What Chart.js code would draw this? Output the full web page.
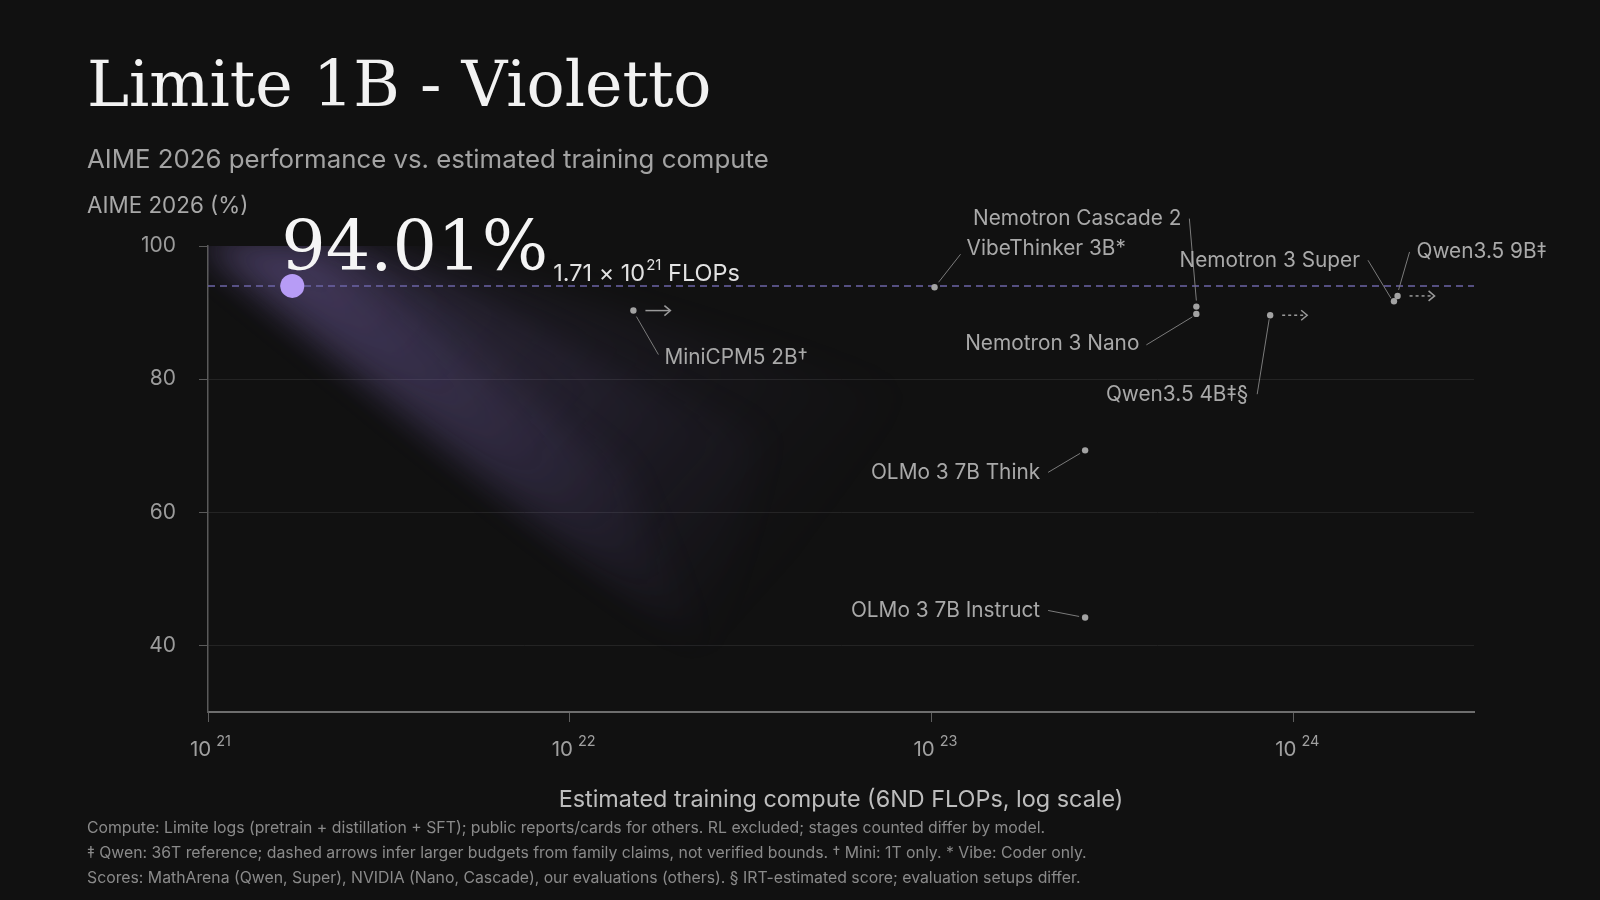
<!DOCTYPE html>
<html lang="en">
<head>
    <meta charset="UTF-8">
    <title>Limite 1B - Violetto</title>
    <style>
        html, body { margin: 0; padding: 0; background: #111111; }
        body { width: 1600px; height: 900px; position: relative; overflow: hidden; font-family: Inter, sans-serif; }
        canvas { position: absolute; left: 0; top: 0; }
        .txt { position: absolute; left: 87px; white-space: nowrap; z-index: 2; }
        .title { top: 53px; margin: 0; font-family: 'DejaVu Serif', serif; font-weight: normal; font-size: 63.4px; line-height: 63px; color: #f2f2f2; }
        .subtitle { top: 146px; font-size: 25.8px; line-height: 25px; color: #a3a3a3; }
        .ylabel { top: 194px; font-size: 22.4px; line-height: 21px; color: #a8a8a8; }
        .notes { top: 815px; font-size: 15.8px; line-height: 25px; color: #8a8a8a; }
    </style>
    <script src="https://cdn.jsdelivr.net/npm/chart.js"></script>
</head>
<body>
    <h1 class="txt title">Limite 1B - Violetto</h1>
    <div class="txt subtitle">AIME 2026 performance vs. estimated training compute</div>
    <div class="txt ylabel">AIME 2026 (%)</div>
    <div class="txt notes">
        Compute: Limite logs (pretrain + distillation + SFT); public reports/cards for others. RL excluded; stages counted differ by model.<br>
        ‡ Qwen: 36T reference; dashed arrows infer larger budgets from family claims, not verified bounds. † Mini: 1T only. * Vibe: Coder only.<br>
        Scores: MathArena (Qwen, Super), NVIDIA (Nano, Cascade), our evaluations (others). § IRT-estimated score; evaluation setups differ.
    </div>
    <canvas id="chart" width="1600" height="900"></canvas>

    <script>
        // data
        const modelNames = ['MiniCPM5 2B†', 'VibeThinker 3B*', 'OLMo 3 7B Think', 'OLMo 3 7B Instruct',
            'Nemotron Cascade 2', 'Nemotron 3 Nano', 'Qwen3.5 4B‡§', 'Nemotron 3 Super', 'Qwen3.5 9B‡'];
        const computeFlops = [1.5e22, 1.02e23, 2.66e23, 2.66e23, 5.4e23, 5.4e23, 8.64e23, 1.9e24, 1.944e24];
        const aimeScores = [90.3, 93.8, 69.3, 44.2, 90.9, 89.8, 89.6, 91.7, 92.5];

        const limiteFlops = 1.71e21;
        const limiteScore = 94.01;

        const yTicks = [40, 60, 80, 100];
        const xTickExps = [21, 22, 23, 24];

        // label placement (pixel offsets from each point)
        const labelLayout = [
            { align: 'left',  dx: 31,  dy: 47,  line: [3, 6, 25, 44], arrow: 'solid' },
            { align: 'left',  dx: 32,  dy: -39, line: [4, -5, 26, -33] },
            { align: 'right', dx: -45, dy: 22,  line: [-5, 3, -37, 22] },
            { align: 'right', dx: -45, dy: -7,  line: [-6, -1, -37, -7] },
            { align: 'right', dx: -15, dy: -88, line: [0, -6, -7, -88] },
            { align: 'right', dx: -57, dy: 30,  line: [-4, 3, -50, 31] },
            { align: 'right', dx: -22, dy: 80,  line: [-1, 4, -13, 79], arrow: 'dashed' },
            { align: 'right', dx: -34, dy: -41, line: [-3, -3, -26, -41] },
            { align: 'left',  dx: 19,  dy: -44, line: [1, -6, 12, -44], arrow: 'dashed' }
        ];
        // glow fan: layered wedges sharing the lower-left edge (offsets from the Limite point)
        const glowLayers = [
            { alpha: 0.10, pts: [[-95, -46], [70, -46], [610, 105], [440, 372], [405, 372]] },
            { alpha: 0.13, pts: [[-95, -46], [40, -46], [470, 150], [425, 370], [405, 370]] },
            { alpha: 0.15, pts: [[-95, -46], [15, -46], [330, 185], [414, 368], [405, 368]] }
        ];

        Chart.defaults.font.family = 'Inter, sans-serif';

        function drawArrow(ctx, x0, x1, y, dashed) {
            ctx.save();
            ctx.strokeStyle = '#9a9a9a';
            ctx.lineWidth = 1.5;
            ctx.setLineDash(dashed ? [3, 3] : []);
            ctx.beginPath();
            ctx.moveTo(x0, y);
            ctx.lineTo(x1 - 1, y);
            ctx.stroke();
            ctx.setLineDash([]);
            ctx.beginPath();
            ctx.moveTo(x1 - 6, y - 5);
            ctx.lineTo(x1, y);
            ctx.lineTo(x1 - 6, y + 5);
            ctx.stroke();
            ctx.restore();
        }

        const overlayPlugin = {
            id: 'overlay',
            beforeDatasetsDraw(chart) {
                const { ctx, chartArea: a, scales: { x, y } } = chart;
                const px = x.getPixelForValue(limiteFlops);
                const py = y.getPixelForValue(limiteScore);

                // purple glow beam
                ctx.save();
                ctx.beginPath();
                ctx.rect(a.left, a.top, a.right - a.left, a.bottom - a.top);
                ctx.clip();
                ctx.filter = 'blur(18px)';
                glowLayers.forEach(layer => {
                    const g = ctx.createLinearGradient(px - 40, py - 30, px + 420, py + 380);
                    g.addColorStop(0, `rgba(168,138,240,${layer.alpha})`);
                    g.addColorStop(0.5, `rgba(160,132,235,${layer.alpha * 0.6})`);
                    g.addColorStop(1, 'rgba(150,125,225,0)');
                    ctx.fillStyle = g;
                    ctx.beginPath();
                    layer.pts.forEach(([dx, dy], i) => i ? ctx.lineTo(px + dx, py + dy) : ctx.moveTo(px + dx, py + dy));
                    ctx.closePath();
                    ctx.fill();
                });
                ctx.restore();

                // reference line at Limite score
                ctx.save();
                ctx.strokeStyle = '#6c64a6';
                ctx.lineWidth = 1.5;
                ctx.setLineDash([7, 5]);
                ctx.beginPath();
                ctx.moveTo(a.left, py);
                ctx.lineTo(a.right, py);
                ctx.stroke();
                ctx.restore();
            },
            afterDatasetsDraw(chart) {
                const { ctx, scales: { x, y } } = chart;
                ctx.save();
                ctx.font = '20.8px Inter';
                ctx.textBaseline = 'middle';
                modelNames.forEach((name, i) => {
                    const px = x.getPixelForValue(computeFlops[i]);
                    const py = y.getPixelForValue(aimeScores[i]);
                    const L = labelLayout[i];
                    ctx.strokeStyle = '#7c7c7c';
                    ctx.lineWidth = 1;
                    ctx.beginPath();
                    ctx.moveTo(px + L.line[0], py + L.line[1]);
                    ctx.lineTo(px + L.line[2], py + L.line[3]);
                    ctx.stroke();
                    ctx.fillStyle = '#a9a9a9';
                    ctx.textAlign = L.align;
                    ctx.fillText(name, px + L.dx, py + L.dy);
                    if (L.arrow) drawArrow(ctx, px + 12, px + 37, py, L.arrow === 'dashed');
                });

                // headline for Limite
                const px = x.getPixelForValue(limiteFlops);
                const py = y.getPixelForValue(limiteScore);
                ctx.textAlign = 'left';
                ctx.textBaseline = 'alphabetic';
                ctx.fillStyle = '#f5f5f5';
                ctx.font = '70px "DejaVu Serif"';
                const big = limiteScore.toFixed(2) + '%';
                ctx.fillText(big, px - 11, py - 16);
                let cx = px - 11 + ctx.measureText(big).width + 5;
                ctx.fillStyle = '#e2e2e2';
                ctx.font = '23.5px Inter';
                const mant = (limiteFlops / 1e21).toFixed(2) + ' × 10';
                ctx.fillText(mant, cx, py - 5);
                cx += ctx.measureText(mant).width + 1;
                ctx.font = '15px Inter';
                ctx.fillText('21', cx, py - 16);
                cx += ctx.measureText('21').width;
                ctx.font = '23.5px Inter';
                ctx.fillText(' FLOPs', cx, py - 5);
                ctx.restore();
            },
            afterDraw(chart) {
                // x tick labels as 10 with superscript exponent
                const { ctx, scales: { x } } = chart;
                ctx.save();
                ctx.fillStyle = '#a0a0a0';
                ctx.textAlign = 'left';
                ctx.textBaseline = 'alphabetic';
                xTickExps.forEach(e => {
                    const xp = x.getPixelForValue(10 ** e);
                    ctx.font = '20.5px Inter';
                    ctx.fillText('10', xp - 18, x.top + 44);
                    const w = ctx.measureText('10').width;
                    ctx.font = '14.5px Inter';
                    ctx.fillText(String(e), xp - 18 + w + 5, x.top + 34);
                });
                ctx.restore();
            }
        };

        new Chart(document.getElementById('chart'), {
            type: 'scatter',
            data: {
                datasets: [
                    {
                        label: 'Limite 1B',
                        data: [{ x: limiteFlops, y: limiteScore }],
                        backgroundColor: '#b79cf6',
                        borderWidth: 0,
                        pointRadius: 12
                    },
                    {
                        label: 'Others',
                        data: computeFlops.map((v, i) => ({ x: v, y: aimeScores[i] })),
                        backgroundColor: '#a3a3a3',
                        borderWidth: 0,
                        pointRadius: 3.2
                    }
                ]
            },
            options: {
                responsive: false,
                animation: false,
                events: [],
                layout: { padding: { left: 0, top: 246, right: 126, bottom: 86 } },
                plugins: { legend: { display: false }, tooltip: { enabled: false } },
                scales: {
                    x: {
                        type: 'logarithmic',
                        min: 10 ** 21,
                        max: 10 ** 24.5,
                        afterBuildTicks: s => { s.ticks = xTickExps.map(e => ({ value: 10 ** e })); },
                        afterFit: s => { s.height = 102; },
                        ticks: { display: false },
                        grid: { drawOnChartArea: false, drawTicks: true, tickLength: 10, tickColor: '#5e5e5e' },
                        border: { color: '#6e6e6e', width: 2 },
                        title: {
                            display: true,
                            text: 'Estimated training compute (6ND FLOPs, log scale)',
                            color: '#bdbdbd',
                            font: { size: 23.4 },
                            padding: { top: 0, bottom: 0 }
                        }
                    },
                    y: {
                        min: 30,
                        max: 100,
                        afterBuildTicks: s => { s.ticks = yTicks.map(v => ({ value: v })); },
                        afterFit: s => { s.width = 208; },
                        ticks: { color: '#9c9c9c', font: { size: 21 }, padding: 23 },
                        grid: {
                            color: c => (c.tick && c.tick.value === 100) ? 'rgba(0,0,0,0)' : '#242424',
                            tickColor: '#5a5a5a',
                            tickLength: 9
                        },
                        border: { color: '#5a5a5a', width: 1.5 }
                    }
                }
            },
            plugins: [overlayPlugin]
        });
    </script>
</body>
</html>
